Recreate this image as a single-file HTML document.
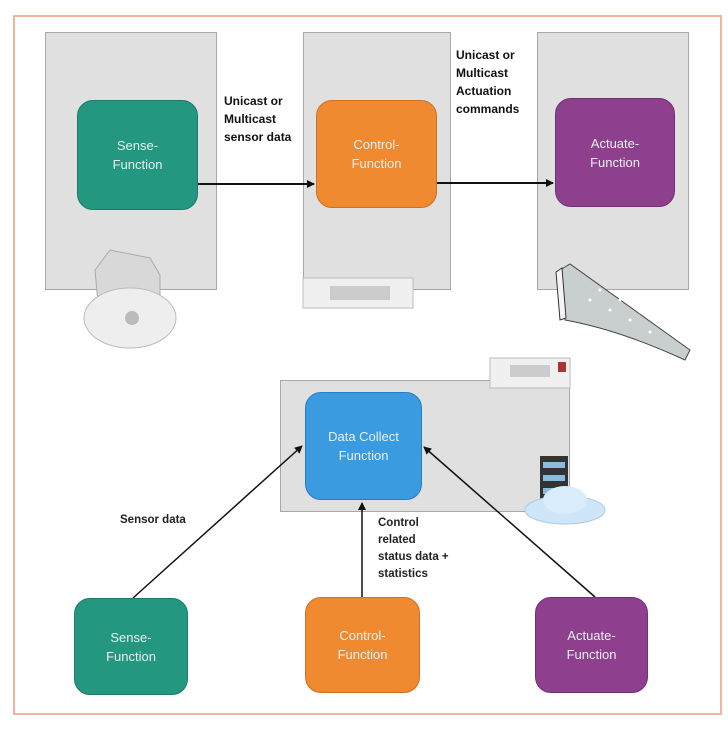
<!DOCTYPE html>
<html><head><style>
body{margin:0;width:728px;height:730px;background:#fff;position:relative;overflow:hidden;font-family:"Liberation Sans",sans-serif;}
.a{position:absolute;}
.frame{left:13px;top:15px;width:709px;height:700px;border:2px solid #f2b49a;box-sizing:border-box;}
.panel{position:absolute;background:#e0e0e0;border:1px solid #a8a8a8;box-sizing:border-box;}
.box{position:absolute;border-radius:16px;color:#e8f0ee;font-size:13px;text-align:center;display:flex;align-items:center;justify-content:center;line-height:19px;box-sizing:border-box;}
.g{background:#23977f;border:1px solid #1c7a66;}
.o{background:#ef8a31;border:1px solid #cf7020;}
.p{background:#8e3f8e;border:1px solid #723072;}
.b{background:#3a9be0;border:1px solid #2a7cc0;}
.lbl{position:absolute;font-size:12px;font-weight:bold;line-height:18px;color:#111;}
.lbl2{position:absolute;font-size:11.5px;font-weight:bold;line-height:17px;color:#222;}
</style></head><body>
<div class="a frame"></div>
<div class="panel" style="left:45px;top:32px;width:172px;height:258px"></div>
<div class="panel" style="left:303px;top:32px;width:148px;height:258px"></div>
<div class="panel" style="left:537px;top:32px;width:152px;height:258px"></div>
<div class="panel" style="left:280px;top:380px;width:290px;height:132px"></div>

<svg class="a" style="left:0;top:0" width="728" height="730">
<defs><marker id="ah" markerWidth="8" markerHeight="8" refX="7" refY="4" orient="auto" markerUnits="userSpaceOnUse"><path d="M0,0 L8,4 L0,8z" fill="#111"/></marker></defs>
<line x1="198" y1="184" x2="314" y2="184" stroke="#111" stroke-width="2" marker-end="url(#ah)"/>
<line x1="437" y1="183" x2="553" y2="183" stroke="#111" stroke-width="2" marker-end="url(#ah)"/>
<line x1="133" y1="598" x2="302" y2="446" stroke="#111" stroke-width="1.5" marker-end="url(#ah)"/>
<line x1="362" y1="597" x2="362" y2="503" stroke="#111" stroke-width="1.5" marker-end="url(#ah)"/>
<line x1="595" y1="597" x2="424" y2="447" stroke="#111" stroke-width="1.5" marker-end="url(#ah)"/>
<path d="M95,270 L110,250 L150,258 L160,275 L160,320 Q130,345 100,325 Z" fill="#d8d8d8" stroke="#aaa"/>
<ellipse cx="130" cy="318" rx="46" ry="30" fill="#eee" stroke="#bbb"/>
<circle cx="132" cy="318" r="7" fill="#bbb"/>
<rect x="303" y="278" width="110" height="30" fill="#f0f0f0" stroke="#bbb"/>
<rect x="330" y="286" width="60" height="14" fill="#ccc"/>
<rect x="490" y="358" width="80" height="30" fill="#f0f0f0" stroke="#bbb"/>
<rect x="510" y="365" width="40" height="12" fill="#ccc"/>
<rect x="558" y="362" width="8" height="10" fill="#a33"/>
<path d="M560,270 L570,264 L690,350 L685,360 Q620,330 565,320 Z" fill="#c9cfcf" stroke="#444"/>
<g fill="#fff"><circle cx="590" cy="300" r="1.5"/><circle cx="610" cy="310" r="1.5"/><circle cx="630" cy="320" r="1.5"/><circle cx="650" cy="332" r="1.5"/><circle cx="600" cy="290" r="1.5"/><circle cx="620" cy="300" r="1.5"/><circle cx="640" cy="312" r="1.5"/><circle cx="660" cy="325" r="1.5"/></g>
<path d="M556,272 L562,268 L566,318 L560,320 Z" fill="#f4f4f4" stroke="#333"/>
<rect x="540" y="456" width="28" height="50" fill="#333"/>
<rect x="543" y="462" width="22" height="6" fill="#8bd"/>
<rect x="543" y="475" width="22" height="6" fill="#8bd"/>
<rect x="543" y="488" width="22" height="6" fill="#8bd"/>
<ellipse cx="565" cy="510" rx="40" ry="14" fill="#cfe6f8" stroke="#aacbe8"/>
<ellipse cx="565" cy="500" rx="22" ry="14" fill="#d8ecfb"/>
</svg>

<div class="box g" style="left:77px;top:100px;width:121px;height:110px">Sense-<br>Function</div>
<div class="box o" style="left:316px;top:100px;width:121px;height:108px">Control-<br>Function</div>
<div class="box p" style="left:555px;top:98px;width:120px;height:109px">Actuate-<br>Function</div>
<div class="box b" style="left:305px;top:392px;width:117px;height:108px">Data Collect<br>Function</div>
<div class="box g" style="left:74px;top:598px;width:114px;height:97px">Sense-<br>Function</div>
<div class="box o" style="left:305px;top:597px;width:115px;height:96px">Control-<br>Function</div>
<div class="box p" style="left:535px;top:597px;width:113px;height:96px">Actuate-<br>Function</div>

<div class="lbl" style="left:224px;top:92px">Unicast or<br>Multicast<br>sensor data</div>
<div class="lbl" style="left:456px;top:46px">Unicast or<br>Multicast<br>Actuation<br>commands</div>
<div class="lbl2" style="left:120px;top:512px">Sensor data</div>
<div class="lbl2" style="left:378px;top:515px">Control<br>related<br>status data +<br>statistics</div>
</body></html>
